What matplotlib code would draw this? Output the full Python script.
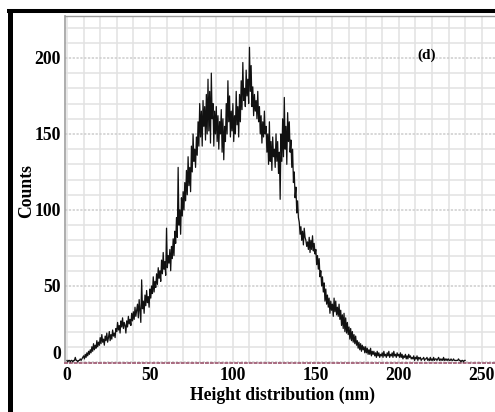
import numpy as np
import matplotlib
matplotlib.use('Agg')
import matplotlib.pyplot as plt
from matplotlib.ticker import MultipleLocator
from matplotlib.lines import Line2D
import matplotlib.transforms as mtransforms

# ---- data (height in nm, step 0.5 nm, starting at 0) ----
x_start = 0.0
x_step = 0.5
counts = [
    1, 0, 1, 1, 0, 1, 1, 0, 1, 1,
    3, 1, 1, 0, 1, 1, 2, 1, 2, 3,
    4, 2, 5, 3, 6, 4, 7, 5, 8, 6,
    10, 7, 12, 8, 11, 9, 14, 10, 13, 11,
    16, 12, 18, 13, 15, 11, 17, 14, 19, 13,
    16, 20, 14, 18, 15, 21, 17, 19, 16, 22,
    20, 26, 21, 24, 19, 27, 23, 29, 22, 26,
    24, 19, 27, 23, 30, 25, 28, 24, 32, 27,
    33, 28, 36, 30, 34, 38, 29, 41, 33, 26,
    54, 35, 40, 32, 44, 37, 47, 39, 43, 36,
    48, 42, 50, 45, 56, 46, 53, 49, 58, 51,
    62, 55, 60, 53, 67, 58, 72, 61, 66, 57,
    88, 62, 70, 65, 74, 60, 76, 68, 81, 70,
    86, 78, 95, 82, 128, 90, 100, 84, 108, 96,
    112, 100, 118, 106, 126, 110, 135, 116, 128, 112,
    142, 125, 150, 132, 140, 128, 148, 136, 158, 142,
    170, 148, 165, 142, 172, 155, 168, 146, 176, 150,
    186, 152, 178, 144, 190, 160, 170, 142, 165, 150,
    168, 145, 162, 140, 158, 150, 166, 138, 160, 133,
    155, 145, 170, 150, 185, 158, 175, 148, 165, 152,
    170, 145, 162, 150, 178, 156, 168, 148, 176, 158,
    185, 166, 197, 172, 180, 168, 192, 175, 186, 170,
    207, 178, 195, 168, 181, 162, 176, 165, 172, 160,
    178, 158, 168, 150, 162, 144, 158, 148, 165, 150,
    155, 138, 150, 130, 158, 132, 145, 126, 148, 135,
    140, 128, 150, 132, 145, 124, 138, 107, 150, 132,
    160, 135, 174, 140, 155, 130, 164, 145, 158, 138,
    146, 128, 140, 118, 125, 108, 115, 98, 106, 95,
    92, 84, 89, 80, 86, 77, 88, 82, 80, 76,
    79, 74, 82, 72, 80, 74, 83, 73, 78, 71,
    74, 64, 70, 61, 68, 56, 60, 50, 56, 46,
    52, 40, 48, 38, 44, 36, 42, 32, 40, 34,
    38, 30, 42, 33, 40, 31, 36, 30, 38, 28,
    34, 24, 31, 22, 32, 20, 29, 19, 26, 18,
    23, 15, 22, 14, 20, 13, 18, 12, 17, 11,
    14, 9, 13, 8, 12, 7, 11, 8, 10, 6,
    10, 6, 9, 5, 8, 5, 9, 4, 7, 5,
    7, 4, 6, 3, 7, 4, 6, 3, 5, 4,
    6, 3, 7, 4, 5, 3, 6, 4, 7, 3,
    5, 4, 6, 3, 7, 4, 5, 3, 6, 4,
    5, 3, 6, 3, 5, 2, 4, 3, 5, 2,
    4, 2, 5, 3, 4, 2, 3, 2, 4, 1,
    3, 2, 4, 1, 3, 2, 3, 1, 2, 2,
    3, 1, 2, 2, 3, 1, 2, 1, 3, 1,
    2, 1, 3, 1, 2, 2, 1, 2, 3, 1,
    2, 1, 2, 1, 3, 1, 2, 1, 2, 1,
    2, 1, 1, 2, 1, 1, 2, 1, 1, 1,
    1, 1, 2, 1, 1, 0, 1, 1, 0, 1,
    1,
]
x_ticks = [0, 50, 100, 150, 200, 250]
y_ticks = [0, 50, 100, 150, 200]
x_label = "Height distribution (nm)"
y_label = "Counts"
panel_label = "(d)"

heights = x_start + x_step * np.arange(len(counts))

W, H = 495, 412
fig = plt.figure(figsize=(W / 100, H / 100), dpi=100)
fig.patch.set_facecolor('white')

ax = fig.add_axes([65 / W, 1 - 363 / H, 1 - 65 / W, (363 - 16) / H])
ax.set_xlim(-1.2, 258)
ax.set_ylim(-0.7, 227.6)

# grid
ax.xaxis.set_minor_locator(MultipleLocator(10))
ax.yaxis.set_minor_locator(MultipleLocator(10))
ax.set_xticks(x_ticks)
ax.set_yticks(y_ticks)
ax.grid(which='minor', color='#e2e2e2', lw=1.1)
ax.grid(which='major', axis='x', color='#e2e2e2', lw=1.1)
ax.grid(which='major', axis='y', color='#cdcdcd', lw=1.1, ls=(0, (1.5, 1)))
ax.set_axisbelow(True)

ax.plot(heights, counts, color='#111111', lw=0.9, zorder=3)

# spines
ax.spines['right'].set_visible(False)
ax.spines['top'].set_color('#9a9a9a')
ax.spines['top'].set_linewidth(1.0)
ax.spines['left'].set_color('#a0a0a0')
ax.spines['left'].set_linestyle((0, (1, 1)))
ax.spines['left'].set_linewidth(1.2)
ax.spines['bottom'].set_color('#a86a80')
ax.spines['bottom'].set_linestyle((0, (1, 1.5)))
ax.spines['bottom'].set_linewidth(1.4)

tick_font = dict(family='Liberation Serif', weight='bold', size=12.7)
ax.tick_params(which='both', length=0)
ax.set_xticklabels([str(t) for t in x_ticks], fontdict=tick_font)
ax.set_yticklabels([str(t) for t in y_ticks], fontdict=tick_font)
ax.tick_params(axis='x', pad=3)
ax.tick_params(axis='y', pad=3)

# lift the "0" y label as in the original
ylabs = ax.get_yticklabels()
ylabs[0].set_transform(ylabs[0].get_transform() +
                       mtransforms.ScaledTranslation(0, 9 / 100, fig.dpi_scale_trans))

fig.text(282 / W, 1 - 395 / H, x_label, ha='center', va='center',
         family='Liberation Serif', weight='bold', size=12.7)
fig.text(27 / W, 1 - 191 / H, y_label, ha='center', va='center', rotation=90,
         family='Liberation Serif', weight='bold', size=12.7)
ax.text(217, 202, panel_label, ha='center', va='center',
        family='Liberation Serif', weight='bold', size=11)

# thick black border on the left and top of the image
fig.add_artist(Line2D([9.5 / W, 9.5 / W], [0, 1 - 9 / H], transform=fig.transFigure,
                      color='black', lw=3.6, solid_capstyle='butt'))
fig.add_artist(Line2D([7 / W, 1], [1 - 11 / H, 1 - 11 / H], transform=fig.transFigure,
                      color='black', lw=2.9, solid_capstyle='butt'))

fig.savefig('out.png', dpi=100)
